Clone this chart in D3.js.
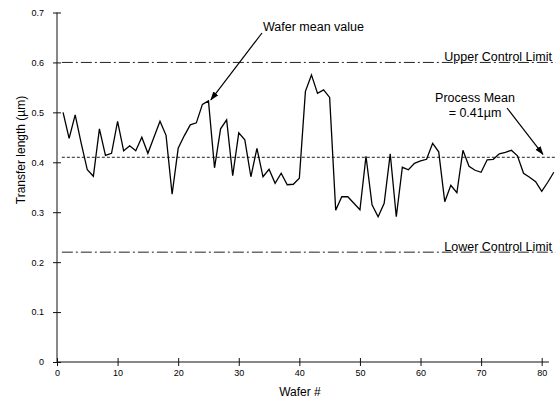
<!DOCTYPE html>
<html>
<head>
<meta charset="utf-8">
<script src="https://cdn.jsdelivr.net/npm/d3@7"></script>
<style>
  body { margin: 0; background: #fff; }
  svg { font-family: "Liberation Sans", Arial, sans-serif; }
</style>
</head>
<body>
<svg id="chart" width="556" height="406"></svg>
<script>
// wafer mean transfer length
var wafers = d3.range(1, 83);
var transferLength = [
  0.500, 0.448, 0.495, 0.438, 0.385, 0.372, 0.467, 0.414, 0.418, 0.482,
  0.423, 0.433, 0.423, 0.450, 0.418, 0.450, 0.482, 0.454, 0.336, 0.428,
  0.453, 0.475, 0.479, 0.516, 0.523, 0.389, 0.467, 0.485, 0.373, 0.459,
  0.445, 0.371, 0.428, 0.371, 0.386, 0.358, 0.378, 0.355, 0.356, 0.368,
  0.542, 0.575, 0.538, 0.545, 0.530, 0.304, 0.331, 0.331, 0.318, 0.305,
  0.412, 0.315, 0.291, 0.318, 0.417, 0.291, 0.390, 0.385, 0.398, 0.403,
  0.406, 0.438, 0.421, 0.321, 0.354, 0.339, 0.424, 0.392, 0.384, 0.380,
  0.405, 0.406, 0.417, 0.420, 0.424, 0.413, 0.378, 0.370, 0.361, 0.342,
  0.360, 0.380
];
var xTicks = [0, 10, 20, 30, 40, 50, 60, 70, 80];
var yTicks = [0, 0.1, 0.2, 0.3, 0.4, 0.5, 0.6, 0.7];
var upperLimit = 0.60, processMean = 0.41, lowerLimit = 0.22;

var svg = d3.select("#chart");

var x = d3.scaleLinear().domain([0, 80]).range([57, 541.7]);
var y = d3.scaleLinear().domain([0, 0.7]).range([362, 12.5]);

// arrow head
svg.append("defs").append("marker")
    .attr("id", "arrow")
    .attr("viewBox", "0 0 10 10")
    .attr("refX", 9).attr("refY", 5)
    .attr("markerWidth", 9).attr("markerHeight", 9)
    .attr("markerUnits", "userSpaceOnUse")
    .attr("orient", "auto")
  .append("path")
    .attr("d", "M0,1.5 L10,5 L0,8.5 Z")
    .attr("fill", "#000");

// x axis
var xAxis = svg.append("g")
    .attr("transform", "translate(0," + y(0) + ")")
    .call(d3.axisBottom(x).tickValues(xTicks).tickSize(4).tickPadding(4).tickFormat(d3.format("d")));
xAxis.select(".domain").attr("d", "M" + x(0) + ",0H" + x(81.2)).attr("stroke", "#111");
xAxis.selectAll(".tick line").attr("y1", -4).attr("stroke", "#111");
xAxis.selectAll("text").attr("font-size", 9).attr("font-family", "Liberation Sans, Arial, sans-serif");

// y axis
var yAxis = svg.append("g")
    .attr("transform", "translate(" + x(0) + ",0)")
    .call(d3.axisLeft(y).tickValues(yTicks).tickSize(4).tickPadding(9)
      .tickFormat(function(d) { return d === 0 ? "0" : d3.format(".1f")(d); }));
yAxis.select(".domain").attr("d", "M0," + y(0) + "V" + y(0.7)).attr("stroke", "#111");
yAxis.selectAll(".tick line").attr("x1", 4).attr("x2", -4).attr("stroke", "#111");
yAxis.selectAll("text").attr("font-size", 9).attr("font-family", "Liberation Sans, Arial, sans-serif");

// axis titles
svg.append("text")
    .attr("x", 300).attr("y", 396)
    .attr("text-anchor", "middle")
    .attr("font-size", 12)
    .text("Wafer #");

svg.append("text")
    .attr("transform", "translate(25,150) rotate(-90)")
    .attr("text-anchor", "middle")
    .attr("font-size", 12)
    .text("Transfer length (µm)");

// control limits and mean
var hLines = [
  {v: upperLimit, dash: "11,3,2,3"},
  {v: processMean, dash: "3,2"},
  {v: lowerLimit, dash: "11,3,2,3"}
];
svg.selectAll(".hline")
  .data(hLines)
  .enter().append("line")
    .attr("class", "hline")
    .attr("x1", x(0.8)).attr("x2", x(82.5))
    .attr("y1", function(d) { return y(d.v); })
    .attr("y2", function(d) { return y(d.v); })
    .attr("stroke", "#222")
    .attr("stroke-width", 1)
    .attr("stroke-dasharray", function(d) { return d.dash; });

// data line
var line = d3.line()
    .x(function(d, i) { return x(wafers[i]); })
    .y(function(d) { return y(d); });

svg.append("path")
    .datum(transferLength)
    .attr("fill", "none")
    .attr("stroke", "#000")
    .attr("stroke-width", 1.3)
    .attr("stroke-linejoin", "miter")
    .attr("d", line);

// labels
svg.append("text").attr("x", 552).attr("y", 61).attr("text-anchor", "end")
    .attr("font-size", 12.5).text("Upper Control Limit");
svg.append("text").attr("x", 552).attr("y", 251).attr("text-anchor", "end")
    .attr("font-size", 12.5).text("Lower Control Limit");
svg.append("text").attr("x", 263).attr("y", 31)
    .attr("font-size", 12.5).text("Wafer mean value");
svg.append("text").attr("x", 475).attr("y", 102).attr("text-anchor", "middle")
    .attr("font-size", 12.5).text("Process Mean");
svg.append("text").attr("x", 475).attr("y", 117).attr("text-anchor", "middle")
    .attr("font-size", 12.5).text("= 0.41µm");

// arrows
svg.append("line")
    .attr("x1", 262).attr("y1", 33)
    .attr("x2", x(25.4)).attr("y2", y(0.525))
    .attr("stroke", "#000").attr("stroke-width", 1.2)
    .attr("marker-end", "url(#arrow)");
svg.append("line")
    .attr("x1", 507).attr("y1", 108)
    .attr("x2", x(80.2)).attr("y2", y(processMean) - 3)
    .attr("stroke", "#000").attr("stroke-width", 1.2)
    .attr("marker-end", "url(#arrow)");
</script>
</body>
</html>
